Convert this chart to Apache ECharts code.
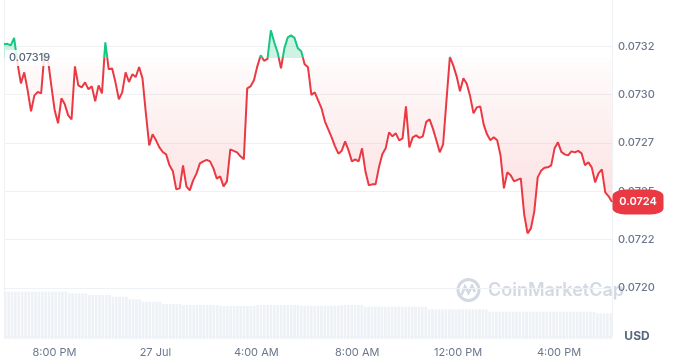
<!DOCTYPE html>
<html>
<head>
<meta charset="utf-8">
<script src="https://cdn.jsdelivr.net/npm/echarts@6/dist/echarts.min.js"></script>
<style>
  html, body { margin: 0; padding: 0; background: #fff; }
  #chart { width: 674px; height: 360px; }
</style>
</head>
<body>
<div id="chart"></div>
<script>
// 24h of prices, one reading every 8 minutes
const startTime = new Date(2024, 6, 26, 18, 3).getTime();
const stepMinutes = 8;
const basePrice = 0.07319;
const lastLabel = '0.0724';

const prices = [
  0.0732603, 0.0732629, 0.0732552, 0.0732940, 0.0731621, 0.0730586, 0.0731155, 0.0730224, 0.0729138, 0.0729966,
  0.0730137, 0.0730069, 0.0732190, 0.0731828, 0.0730483, 0.0729190, 0.0728518, 0.0729811, 0.0729500, 0.0728932,
  0.0728725, 0.0731466, 0.0730483, 0.0730380, 0.0730638, 0.0730276, 0.0730431, 0.0729656, 0.0730483, 0.0730069,
  0.0732707, 0.0731311, 0.0731362, 0.0730638, 0.0729759, 0.0730121, 0.0731155, 0.0730654, 0.0731052, 0.0730912,
  0.0731429, 0.0730845, 0.0729035, 0.0727380, 0.0727949, 0.0727639, 0.0727277, 0.0727034, 0.0726915, 0.0726346,
  0.0726035, 0.0725104, 0.0725156, 0.0726346, 0.0725260, 0.0725053, 0.0725570, 0.0725932, 0.0726449, 0.0726553,
  0.0726630, 0.0726553, 0.0726191, 0.0725658, 0.0725777, 0.0725260, 0.0725518, 0.0727173, 0.0727096, 0.0727018,
  0.0726811, 0.0726656, 0.0730328, 0.0730431, 0.0730742, 0.0731466, 0.0732035, 0.0731750, 0.0731854, 0.0733327,
  0.0732707, 0.0732190, 0.0731362, 0.0732397, 0.0732965, 0.0733069, 0.0732940, 0.0732397, 0.0732241, 0.0731569,
  0.0731414, 0.0729992, 0.0730121, 0.0729707, 0.0729294, 0.0728621, 0.0728208, 0.0727794, 0.0727328, 0.0726951,
  0.0727106, 0.0727587, 0.0727121, 0.0726553, 0.0726656, 0.0726553, 0.0727225, 0.0726035, 0.0725311, 0.0725363,
  0.0725363, 0.0726242, 0.0726915, 0.0727225, 0.0728052, 0.0727845, 0.0728001, 0.0727639, 0.0727742, 0.0729397,
  0.0727277, 0.0727794, 0.0727897, 0.0727768, 0.0727845, 0.0728595, 0.0728725, 0.0728233, 0.0727639, 0.0727018,
  0.0727432, 0.0729707, 0.0731950, 0.0731517, 0.0730949, 0.0730173, 0.0730845, 0.0730561, 0.0729914, 0.0729035,
  0.0729345, 0.0729397, 0.0728466, 0.0727949, 0.0727639, 0.0727794, 0.0727639, 0.0726863, 0.0725156, 0.0725984,
  0.0725829, 0.0725518, 0.0725596, 0.0725673, 0.0723812, 0.0722829, 0.0723087, 0.0723967, 0.0725725, 0.0726061,
  0.0726216, 0.0726242, 0.0726346, 0.0727225, 0.0727535, 0.0727044, 0.0726915, 0.0726863, 0.0727070, 0.0727018,
  0.0727096, 0.0726966, 0.0726346, 0.0726501, 0.0726242, 0.0725467, 0.0725932, 0.0726139, 0.0724949, 0.0724742,
  0.0724448
];

// 24h volume (millions), same timestamps
const volumes = [
  47.3, 47.3, 47.3, 47.3, 47.3, 47.3, 47.3, 47.3, 47.3, 47.3,
  47.3, 47.3, 47.3, 47.3, 47.3, 47.3, 47.3, 47.3, 47.3, 45.7,
  45.7, 45.7, 45.7, 45.7, 45.7, 44.0, 44.0, 44.0, 44.0, 44.0,
  44.0, 44.0, 42.3, 42.3, 42.3, 42.3, 42.3, 39.7, 39.7, 39.7,
  39.7, 37.3, 37.3, 37.3, 37.3, 37.3, 37.3, 35.0, 35.0, 35.0,
  35.0, 35.0, 35.0, 34.0, 34.0, 34.0, 34.0, 34.0, 34.0, 34.0,
  34.0, 34.0, 34.0, 34.0, 33.0, 33.0, 33.0, 33.0, 33.0, 33.0,
  33.0, 33.0, 33.0, 33.0, 33.0, 34.0, 34.0, 34.0, 34.0, 34.0,
  34.0, 34.0, 34.0, 34.0, 34.0, 34.0, 34.0, 34.0, 33.3, 33.3,
  33.3, 33.3, 33.3, 33.3, 33.3, 33.3, 33.3, 33.3, 33.3, 33.3,
  34.0, 34.0, 34.0, 34.0, 34.0, 34.0, 34.0, 32.3, 32.3, 32.3,
  32.3, 32.3, 32.3, 32.3, 32.3, 32.3, 32.3, 32.3, 32.3, 32.3,
  32.3, 32.3, 32.3, 32.3, 32.3, 32.3, 29.7, 29.7, 29.7, 29.7,
  29.7, 29.7, 29.7, 29.7, 29.7, 29.7, 29.7, 29.7, 29.7, 29.7,
  29.7, 29.7, 29.7, 29.7, 27.3, 27.3, 27.3, 27.3, 27.3, 27.3,
  27.3, 27.3, 27.3, 27.3, 27.3, 27.3, 27.3, 27.3, 27.3, 27.3,
  27.3, 27.3, 27.3, 27.3, 27.3, 27.3, 27.3, 27.3, 27.3, 27.3,
  27.3, 27.3, 27.3, 27.3, 27.3, 27.3, 25.7, 25.7, 25.7, 25.7,
  25.7
];

const yTickLabels = ['0.0720', '0.0722', '0.0725', '0.0727', '0.0730', '0.0732'];
const xTickHours = [20, 0, 4, 8, 12, 16];
const xTickLabels = ['8:00 PM', '27 Jul', '4:00 AM', '8:00 AM', '12:00 PM', '4:00 PM'];

const times = prices.map((_, i) => startTime + i * stepMinutes * 60000);
const priceData = prices.map((v, i) => [times[i], v]);
const belowData = prices.map((v, i) => [times[i], Math.min(v, basePrice)]);
const aboveData = prices.map((v, i) => [times[i], Math.max(v, basePrice)]);
const volumeData = volumes.map((v, i) => [times[i], v]);
const tMin = times[0];
const tMax = times[times.length - 1];

const RED = '#ea3943';
const GREEN = '#16c784';
const GRID_LINE = '#eff2f5';
const LABEL = '#6b778c';
const FONT = 'Inter';

const chart = echarts.init(document.getElementById('chart'));

chart.setOption({
  animation: false,
  textStyle: { fontFamily: FONT },
  grid: [
    { left: 4, right: 62, top: -2, height: 338.4, outerBoundsMode: 'none' },
    { left: 4, right: 62, bottom: 21, height: 100, outerBoundsMode: 'none' }
  ],
  xAxis: [
    {
      type: 'time', gridIndex: 0, min: tMin, max: tMax,
      axisLine: { show: false }, axisTick: { show: false },
      axisLabel: { show: false }, splitLine: { show: false }
    },
    {
      type: 'time', gridIndex: 1, min: tMin, max: tMax,
      minInterval: 4 * 3600 * 1000, maxInterval: 4 * 3600 * 1000,
      axisLine: { show: false }, axisTick: { show: false }, splitLine: { show: false },
      axisLabel: {
        color: LABEL, fontSize: 11, fontFamily: FONT, margin: 8,
        showMinLabel: false, showMaxLabel: false, hideOverlap: false,
        formatter: (value) => {
          const d = new Date(value);
          if (d.getMinutes() !== 0) return '';
          const k = xTickHours.indexOf(d.getHours());
          return k >= 0 ? xTickLabels[k] : '';
        }
      }
    }
  ],
  yAxis: [
    {
      type: 'value', gridIndex: 0, position: 'right',
      min: 0.07175, max: 0.0735, interval: 0.00025,
      axisLine: { show: true, lineStyle: { color: GRID_LINE } },
      axisTick: { show: false },
      splitLine: { lineStyle: { color: GRID_LINE, width: 1 } },
      axisLabel: {
        color: LABEL, fontSize: 11, fontWeight: 500, fontFamily: FONT, margin: 6,
        formatter: (value, index) => yTickLabels[index - 1] || ''
      }
    },
    {
      type: 'value', gridIndex: 0, position: 'left',
      axisLine: { show: true, lineStyle: { color: GRID_LINE } },
      axisTick: { show: false }, axisLabel: { show: false }, splitLine: { show: false }
    },
    {
      type: 'value', gridIndex: 1, min: 0, max: 100, show: false
    }
  ],
  visualMap: {
    show: false,
    type: 'piecewise',
    seriesIndex: 0,
    dimension: 1,
    pieces: [
      { gt: 0.07, lte: basePrice, color: RED },
      { gt: basePrice, lte: 0.08, color: GREEN }
    ]
  },
  series: [
    {
      name: 'price',
      type: 'line',
      xAxisIndex: 0, yAxisIndex: 0,
      data: priceData,
      symbol: 'none',
      z: 4,
      lineStyle: { width: 2 },
      markLine: {
        silent: true,
        symbol: ['none', 'none'],
        label: { show: false },
        lineStyle: { color: '#a6b0c3', type: [1, 3], width: 1 },
        data: [{ yAxis: basePrice }]
      },
      markPoint: {
        silent: true,
        z: 6,
        data: [
          {
            coord: [tMin, basePrice],
            symbol: 'rect', symbolSize: 0,
            label: {
              show: true, position: 'right', distance: 1,
              formatter: String(basePrice),
              color: '#58667e', fontSize: 11, fontWeight: 500, fontFamily: FONT,
              backgroundColor: 'rgba(255,255,255,0.85)',
              padding: [3, 4, 2, 4]
            }
          },
          {
            coord: [tMax, prices[prices.length - 1]],
            symbol: 'roundRect', symbolSize: [51, 25], symbolOffset: [26, 0],
            itemStyle: { color: RED },
            label: {
              show: true, position: 'inside', formatter: lastLabel,
              color: '#fff', fontSize: 11, fontWeight: 600, fontFamily: FONT
            }
          }
        ]
      }
    },
    {
      name: 'below',
      type: 'line',
      xAxisIndex: 0, yAxisIndex: 0,
      data: belowData,
      symbol: 'none',
      silent: true,
      z: 1,
      lineStyle: { width: 0 },
      areaStyle: {
        origin: basePrice,
        color: new echarts.graphic.LinearGradient(0, 0, 0, 1, [
          { offset: 0, color: 'rgba(234, 57, 67, 0.02)' },
          { offset: 1, color: 'rgba(234, 57, 67, 0.26)' }
        ])
      }
    },
    {
      name: 'above',
      type: 'line',
      xAxisIndex: 0, yAxisIndex: 0,
      data: aboveData,
      symbol: 'none',
      silent: true,
      z: 1,
      lineStyle: { width: 0 },
      areaStyle: {
        origin: basePrice,
        color: 'rgba(22, 199, 132, 0.3)'
      }
    },
    {
      name: 'volume',
      type: 'bar',
      xAxisIndex: 1, yAxisIndex: 2,
      data: volumeData,
      barWidth: 2.6,
      silent: true,
      itemStyle: { color: '#eef1f5' }
    }
  ],
  graphic: [
    {
      type: 'circle', silent: true,
      shape: { cx: 468.5, cy: 290, r: 10.5 },
      style: { fill: 'none', stroke: '#d3d9e3', lineWidth: 3 }
    },
    {
      type: 'polyline', silent: true,
      shape: { points: [[461.5, 295], [465, 286.5], [468.5, 293], [472, 286], [475, 292]] },
      style: { fill: 'none', stroke: '#d3d9e3', lineWidth: 2.6 }
    },
    {
      type: 'text', silent: true, x: 488, y: 291,
      style: { text: 'CoinMarketCap', font: '600 18px Inter', fill: '#d3d9e3', verticalAlign: 'middle' }
    },
    {
      type: 'text', silent: true, x: 637, y: 336,
      style: { text: 'USD', font: 'bold 12px Inter', fill: '#58667e', align: 'center', verticalAlign: 'middle' }
    }
  ]
});
</script>
</body>
</html>
